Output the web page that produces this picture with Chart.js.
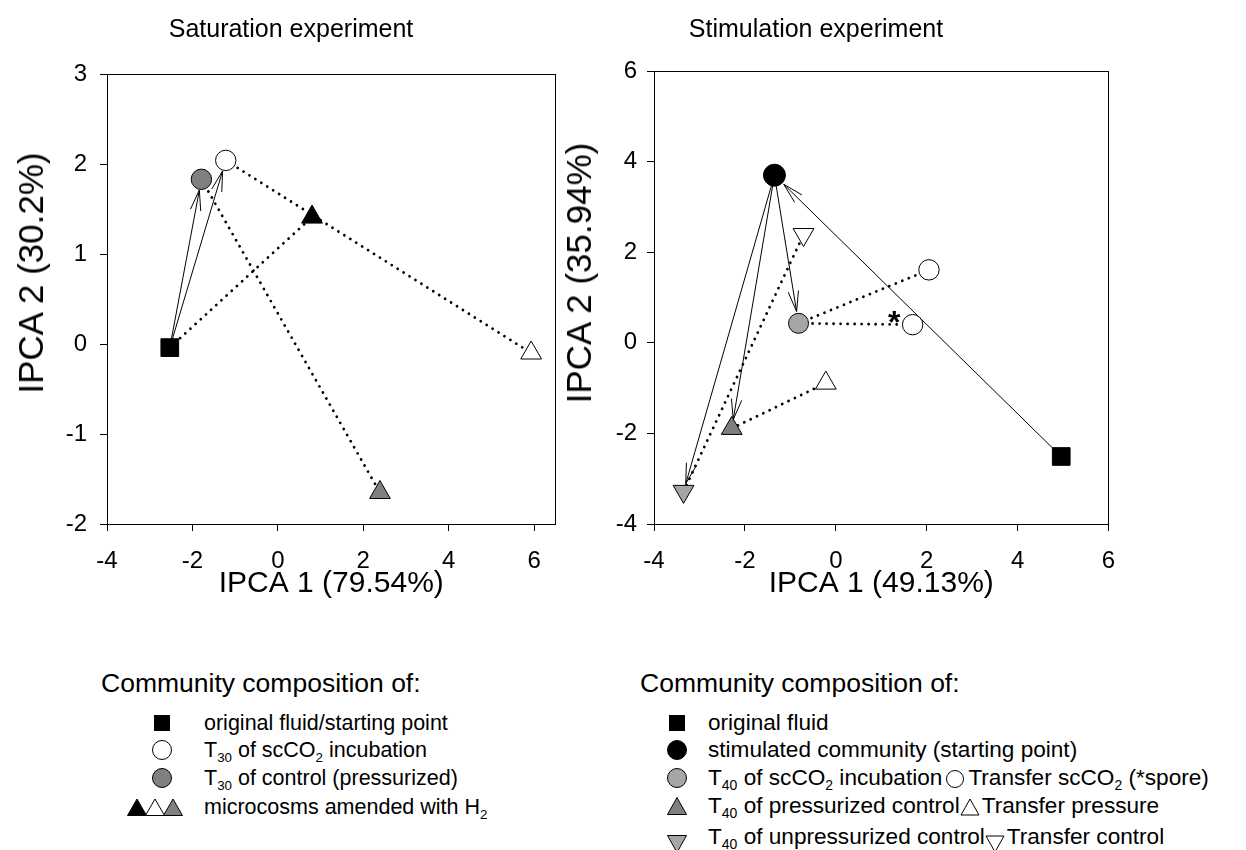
<!DOCTYPE html>
<html><head><meta charset="utf-8">
<script src="https://cdn.jsdelivr.net/npm/chart.js@4.4.0/dist/chart.umd.min.js"></script>
<style>
html,body{margin:0;padding:0;background:#fff;}
body{width:1246px;height:850px;position:relative;overflow:hidden;font-family:"Liberation Sans",Arial,Helvetica,sans-serif;color:#000;}
canvas{position:absolute;top:0;}
.ttl{position:absolute;font-size:25px;transform:translate(-50%,-50%);white-space:nowrap;}
.ytl{position:absolute;font-size:35px;white-space:nowrap;transform:translate(-50%,-50%) rotate(-90deg);}
.lgt{position:absolute;font-size:26.5px;white-space:nowrap;transform:translateY(-50%);}
.row{position:absolute;height:30px;display:flex;align-items:center;white-space:nowrap;font-size:21.5px;transform:translateY(-50%);}
.row.r{font-size:22.6px;}
.sym{display:inline-flex;justify-content:center;align-items:center;}
sub{font-size:62%;vertical-align:-0.35em;line-height:0;}
svg{display:block;}
.inl{display:inline-block;vertical-align:middle;margin:0 3px;}
</style>
</head><body>
<canvas id="c1" width="580" height="620" style="left:0px;width:580px;height:620px"></canvas>
<canvas id="c2" width="686" height="620" style="left:560px;width:686px;height:620px"></canvas>

<div class="ttl" style="left:291px;top:28px">Saturation experiment</div>
<div class="ttl" style="left:816px;top:28px">Stimulation experiment</div>
<div class="ytl" style="left:31px;top:273px">IPCA 2 (30.2%)</div>
<div class="ytl" style="left:579px;top:273px">IPCA 2 (35.94%)</div>

<div class="lgt" style="left:101px;top:683px">Community composition of:</div>
<div class="row" style="left:142px;top:723px"><span class="sym" style="width:40px"><svg width="16" height="16"><rect x="0" y="0" width="16" height="16" fill="#000"/></svg></span><span style="margin-left:22px">original fluid/starting point</span></div>
<div class="row" style="left:142px;top:750px"><span class="sym" style="width:40px"><svg width="22" height="22"><circle cx="11" cy="11" r="9.5" fill="#fff" stroke="#000"/></svg></span><span style="margin-left:22px">T<sub>30</sub> of scCO<sub>2</sub> incubation</span></div>
<div class="row" style="left:142px;top:778px"><span class="sym" style="width:40px"><svg width="22" height="22"><circle cx="11" cy="11" r="9.5" fill="#808080" stroke="#000"/></svg></span><span style="margin-left:22px">T<sub>30</sub> of control (pressurized)</span></div>
<div class="row" style="left:127px;top:807px"><span class="sym" style="width:58px;position:relative;height:20px">
<svg width="58" height="20" style="position:absolute;left:0;top:0"><polygon points="10,2 19.5,18.5 0.5,18.5" fill="#000" stroke="#000"/><polygon points="46,2 55.5,18.5 36.5,18.5" fill="#808080" stroke="#000"/><polygon points="28,2 37.5,18.5 18.5,18.5" fill="#fff" stroke="#000"/></svg></span><span style="margin-left:19px">microcosms amended with H<sub>2</sub></span></div>

<div class="lgt" style="left:640px;top:683px">Community composition of:</div>
<div class="row r" style="left:662px;top:723px"><span class="sym" style="width:30px"><svg width="16" height="16"><rect x="0" y="0" width="16" height="16" fill="#000"/></svg></span><span style="margin-left:16px">original fluid</span></div>
<div class="row r" style="left:662px;top:750px"><span class="sym" style="width:30px"><svg width="22" height="22"><circle cx="11" cy="11" r="9.5" fill="#000" stroke="#000"/></svg></span><span style="margin-left:16px">stimulated community (starting point)</span></div>
<div class="row r" style="left:662px;top:778px"><span class="sym" style="width:30px"><svg width="22" height="22"><circle cx="11" cy="11" r="9.5" fill="#a6a6a6" stroke="#000"/></svg></span><span style="margin-left:16px">T<sub>40</sub> of scCO<sub>2</sub> incubation<svg class="inl" width="20" height="20"><circle cx="10" cy="10" r="8.5" fill="#fff" stroke="#000"/></svg>Transfer scCO<sub>2</sub> (*spore)</span></div>
<div class="row r" style="left:662px;top:806px"><span class="sym" style="width:30px"><svg width="22" height="20"><polygon points="11,1.5 20.5,18.5 1.5,18.5" fill="#7f7f7f" stroke="#000"/></svg></span><span style="margin-left:16px">T<sub>40</sub> of pressurized control<svg class="inl" style="margin:0 2px 0 0" width="20" height="18"><polygon points="10,1 19,17 1,17" fill="#fff" stroke="#000"/></svg>Transfer pressure</span></div>
<div class="row r" style="left:662px;top:837px"><span class="sym" style="width:30px;position:relative;top:7px"><svg width="22" height="20"><polygon points="1.5,1.5 20.5,1.5 11,18.5" fill="#a6a6a6" stroke="#000"/></svg></span><span style="margin-left:16px">T<sub>40</sub> of unpressurized control<svg class="inl" style="margin:0 2px 0 0;position:relative;top:6px" width="20" height="18"><polygon points="1,1 19,1 10,17" fill="#fff" stroke="#000"/></svg>Transfer control</span></div>

<script>
// ---------- Saturation experiment ----------
const satNames = ['original fluid/starting point', 'T30 of scCO2 incubation', 'T30 of control (pressurized)',
                  'H2: original fluid', 'H2: scCO2 incubation', 'H2: control'];
const satX = [-2.53, -1.22, -1.79, 0.80, 5.93, 2.39];
const satY = [-0.04, 2.04, 1.83, 1.41, -0.10, -1.65];
const satArrows = [[0, 2], [0, 1]];          // [from, to] indices
const satDotted = [[0, 3], [1, 4], [2, 5]];
const satXTicks = [-4, -2, 0, 2, 4, 6];
const satYTicks = [-2, -1, 0, 1, 2, 3];
const satXTitle = 'IPCA 1 (79.54%)';

// ---------- Stimulation experiment ----------
const stimNames = ['original fluid', 'stimulated community (starting point)', 'T40 of scCO2 incubation',
                   'Transfer scCO2', 'Transfer scCO2 (*spore)', 'T40 of pressurized control',
                   'Transfer pressure', 'T40 of unpressurized control', 'Transfer control'];
const stimX = [4.96, -1.35, -0.82, 2.05, 1.69, -2.29, -0.22, -3.35, -0.71];
const stimY = [-2.51, 3.70, 0.43, 1.61, 0.40, -1.89, -0.89, -3.28, 2.39];
const stimArrows = [[0, 1], [1, 2], [1, 5], [1, 7]];
const stimDotted = [[2, 3], [2, 4], [5, 6], [7, 8]];
const stimStar = {x: 1.24, y: 0.52, text: '*'};
const stimXTicks = [-4, -2, 0, 2, 4, 6];
const stimYTicks = [-4, -2, 0, 2, 4, 6];
const stimXTitle = 'IPCA 1 (49.13%)';

// ---------- styles (kept apart from the data) ----------
const FONT = '"Liberation Sans", Arial, Helvetica, sans-serif';
const satStyle = {
  shape: ['rect', 'circle', 'circle', 'triangle', 'triangle', 'triangle'],
  radius: [12.5, 10.2, 10.2, 12, 12, 12],
  fill: ['#000', '#fff', '#808080', '#000', '#fff', '#808080'],
  rot: [0, 0, 0, 0, 0, 0],
  gap: [0, 11, 11, 0, 0, 0]
};
const stimStyle = {
  shape: ['rect', 'circle', 'circle', 'circle', 'circle', 'triangle', 'triangle', 'triangle', 'triangle'],
  radius: [12.5, 11, 10, 10.2, 10.2, 12, 12, 12, 12],
  fill: ['#000', '#000', '#a6a6a6', '#fff', '#fff', '#7f7f7f', '#fff', '#a6a6a6', '#fff'],
  rot: [0, 0, 0, 0, 0, 0, 0, 180, 180],
  gap: [0, 13, 12, 0, 0, 9, 0, 8, 0]
};

const framePlugin = {
  id: 'frameArrows',
  beforeDatasetsDraw(chart, args, opts) {
    const {ctx, chartArea: a, scales: {x, y}} = chart;
    ctx.save();
    ctx.strokeStyle = '#000';
    ctx.lineWidth = 1;
    ctx.strokeRect(Math.round(a.left) + 0.5, Math.round(a.top) + 0.5,
                   Math.round(a.right - a.left) - 1, Math.round(a.bottom - a.top));
    (opts.arrows || []).forEach(([f, t]) => {
      const x0 = x.getPixelForValue(opts.xs[f]), y0 = y.getPixelForValue(opts.ys[f]);
      const x1 = x.getPixelForValue(opts.xs[t]), y1 = y.getPixelForValue(opts.ys[t]);
      const ang = Math.atan2(y1 - y0, x1 - x0);
      const g = opts.gap[t];
      const tx = x1 - Math.cos(ang) * g, ty = y1 - Math.sin(ang) * g;
      ctx.beginPath();
      ctx.moveTo(x0, y0);
      ctx.lineTo(tx, ty);
      const L = 21, h = 0.25;
      ctx.moveTo(tx - L * Math.cos(ang - h), ty - L * Math.sin(ang - h));
      ctx.lineTo(tx, ty);
      ctx.lineTo(tx - L * Math.cos(ang + h), ty - L * Math.sin(ang + h));
      ctx.lineWidth = 1;
      ctx.stroke();
    });
    ctx.restore();
  },
  afterDatasetsDraw(chart, args, opts) {
    if (!opts.star) return;
    const {ctx, scales: {x, y}} = chart;
    ctx.save();
    ctx.font = 'bold 32px ' + FONT;
    ctx.fillStyle = '#000';
    ctx.textAlign = 'center';
    ctx.textBaseline = 'middle';
    ctx.fillText(opts.star.text, x.getPixelForValue(opts.star.x) + 2, y.getPixelForValue(opts.star.y) + 5);
    ctx.restore();
  }
};

function build(canvasId, xs, ys, style, arrows, dotted, xr, yr, xTicks, yTicks, xTitle, lay, star) {
  const datasets = dotted.map(([f, t]) => ({
    data: [{x: xs[f], y: ys[f]}, {x: xs[t], y: ys[t]}],
    showLine: true, pointRadius: 0, borderColor: '#000', borderWidth: 2.8,
    borderDash: [0.01, 7], borderCapStyle: 'round', order: 3
  }));
  datasets.push({
    data: xs.map((v, i) => ({x: v, y: ys[i]})),
    pointStyle: style.shape, pointRadius: style.radius, pointRotation: style.rot,
    backgroundColor: style.fill, borderColor: '#000', borderWidth: 1, showLine: false, order: 1
  });
  const tickFont = {family: FONT, size: 24};
  const titleFont = {family: FONT, size: 30};
  return new Chart(document.getElementById(canvasId), {
    type: 'scatter',
    data: {datasets},
    plugins: [framePlugin],
    options: {
      responsive: false, animation: false, events: [],
      layout: {padding: {left: 0, top: lay.top, right: lay.right, bottom: 0}},
      plugins: {
        legend: {display: false}, tooltip: {enabled: false},
        frameArrows: {arrows, xs, ys, gap: style.gap, star}
      },
      scales: {
        x: {
          type: 'linear', position: 'bottom', min: xr[0], max: xr[1],
          afterBuildTicks: s => { s.ticks = xTicks.map(v => ({value: v})); },
          afterFit: s => { s.height = 96; },
          ticks: {font: tickFont, color: '#000', padding: 16, maxRotation: 0, autoSkip: false},
          grid: {drawOnChartArea: false, drawTicks: true, tickLength: 7, color: '#000', lineWidth: 1},
          border: {display: true, color: '#000', width: 1},
          title: {display: true, text: xTitle, font: titleFont, color: '#000', padding: {top: 0, bottom: 18}}
        },
        y: {
          type: 'linear', position: 'left', min: yr[0], max: yr[1],
          afterBuildTicks: s => { s.ticks = yTicks.map(v => ({value: v})); },
          afterFit: s => { s.width = lay.yw; },
          ticks: {font: tickFont, color: '#000', padding: lay.yp, autoSkip: false},
          grid: {drawOnChartArea: false, drawTicks: true, tickLength: 7, color: '#000', lineWidth: 1},
          border: {display: true, color: '#000', width: 1},
          title: {display: false}
        }
      }
    }
  });
}

build('c1', satX, satY, satStyle, satArrows, satDotted, [-4, 6.5], [-2, 3], satXTicks, satYTicks,
      satXTitle, {top: 74, right: 24.5, yw: 107, yp: 13}, null);
build('c2', stimX, stimY, stimStyle, stimArrows, stimDotted, [-4, 6], [-4, 6], stimXTicks, stimYTicks,
      stimXTitle, {top: 71, right: 137.5, yw: 94, yp: 10}, stimStar);
</script>
</body></html>
